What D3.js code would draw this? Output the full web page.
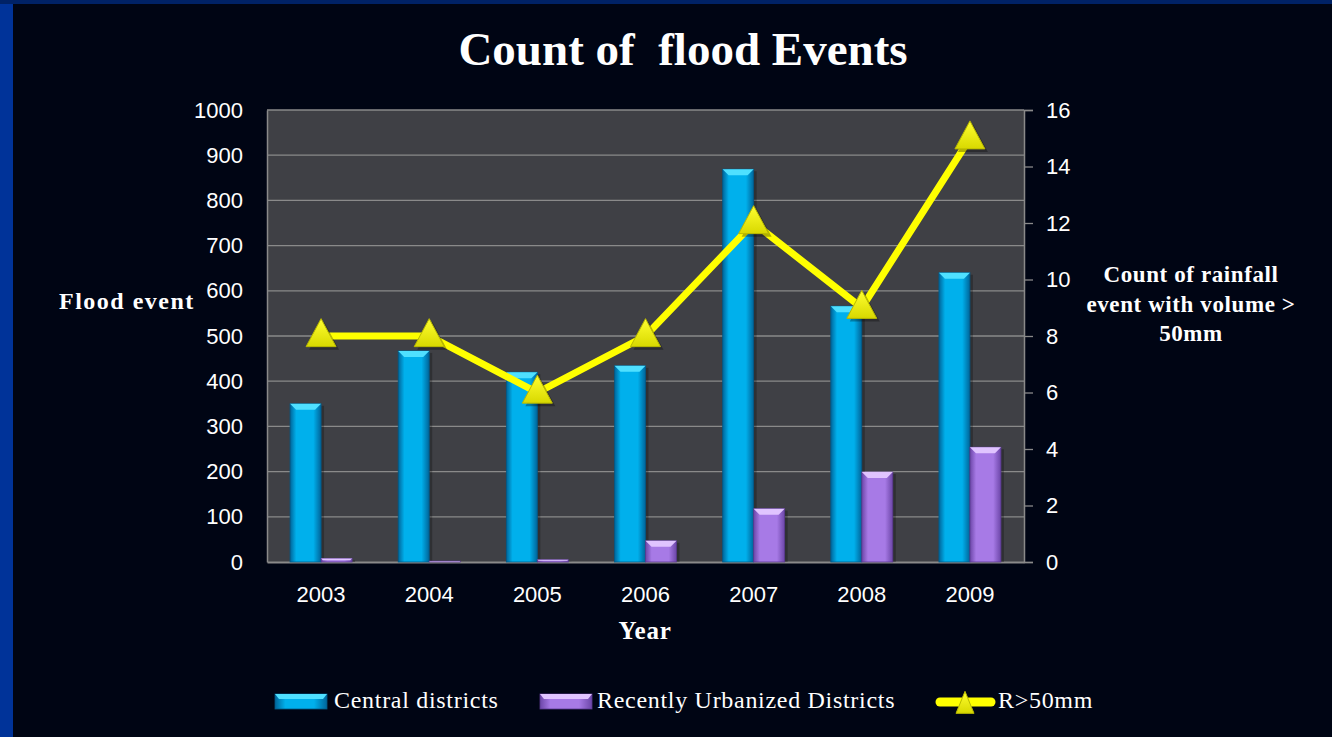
<!DOCTYPE html>
<html>
<head>
<meta charset="utf-8">
<script src="https://cdn.jsdelivr.net/npm/d3@7"></script>
<style>
  html, body { margin: 0; padding: 0; background: #000514; overflow: hidden; }
  svg { display: block; }
</style>
</head>
<body>
<div id="chart"></div>
<script>
// data
const years = ["2003", "2004", "2005", "2006", "2007", "2008", "2009"];
const centralDistricts = [350, 467, 420, 434, 869, 566, 640];
const urbanizedDistricts = [8, 2, 5, 47, 118, 199, 254];
const rainfallOver50 = [8, 8, 6, 8, 12, 9, 15];
const leftTicks = [0, 100, 200, 300, 400, 500, 600, 700, 800, 900, 1000];
const rightTicks = [0, 2, 4, 6, 8, 10, 12, 14, 16];

const width = 1332, height = 737;
const plot = { left: 267, right: 1024, top: 110, bottom: 562 };
const SANS = "Liberation Sans, Arial, sans-serif";
const SERIF = "Liberation Serif, Times New Roman, serif";

const svg = d3.select("#chart").append("svg").attr("width", width).attr("height", height);
const defs = svg.append("defs");

// background + slide borders
svg.append("rect").attr("width", width).attr("height", height).attr("fill", "#000514");
svg.append("rect").attr("width", 13).attr("height", height).attr("fill", "#003399");
svg.append("rect").attr("width", width).attr("height", 4).attr("fill", "#002266");

// gradients for the bevelled bars
const barGrad = (id, edge, mid) => {
  const g = defs.append("linearGradient").attr("id", id).attr("x1", 0).attr("x2", 1).attr("y1", 0).attr("y2", 0);
  g.append("stop").attr("offset", "0%").attr("stop-color", edge);
  g.append("stop").attr("offset", "20%").attr("stop-color", mid);
  g.append("stop").attr("offset", "75%").attr("stop-color", mid);
  g.append("stop").attr("offset", "100%").attr("stop-color", edge);
};
barGrad("gCentral", "#00659a", "#00b0ec");
barGrad("gUrban", "#6c46a8", "#a77ae6");
const triGrad = defs.append("linearGradient").attr("id", "gTri").attr("x1", 0).attr("x2", 0).attr("y1", 0).attr("y2", 1);
triGrad.append("stop").attr("offset", "0%").attr("stop-color", "#ffff30");
triGrad.append("stop").attr("offset", "100%").attr("stop-color", "#d8d800");

// scales
const x = d3.scaleBand().domain(years).range([plot.left, plot.right]);
const yL = d3.scaleLinear().domain([0, 1000]).range([plot.bottom, plot.top]);
const yR = d3.scaleLinear().domain([0, 16]).range([plot.bottom, plot.top]);
const barW = 31;

// plot area
svg.append("rect")
  .attr("x", plot.left).attr("y", plot.top)
  .attr("width", plot.right - plot.left).attr("height", plot.bottom - plot.top)
  .attr("fill", "#3f4045");

// gridlines
svg.append("g").selectAll("line").data(leftTicks.slice(1)).join("line")
  .attr("x1", plot.left).attr("x2", plot.right)
  .attr("y1", (d) => yL(d)).attr("y2", (d) => yL(d))
  .attr("stroke", "#8a8a8a").attr("stroke-width", 1.3);

// left axis
const axL = svg.append("g").attr("transform", `translate(${plot.left},0)`)
  .call(d3.axisLeft(yL).tickValues(leftTicks).tickFormat(d3.format("d")).tickSize(0).tickPadding(24));
axL.select(".domain").attr("stroke", "#8a8a8a").attr("stroke-width", 1.5);
axL.selectAll("text").attr("fill", "#fff").attr("font-family", SANS).attr("font-size", 22);

// right axis
const axR = svg.append("g").attr("transform", `translate(${plot.right},0)`)
  .call(d3.axisRight(yR).tickValues(rightTicks).tickSize(9).tickPadding(13));
axR.select(".domain").attr("stroke", "#8a8a8a").attr("stroke-width", 1.5);
axR.selectAll("line").attr("stroke", "#8a8a8a").attr("stroke-width", 1.3);
axR.selectAll("text").attr("fill", "#fff").attr("font-family", SANS).attr("font-size", 22);

// bottom axis
const axB = svg.append("g").attr("transform", `translate(0,${plot.bottom})`)
  .call(d3.axisBottom(x).tickSize(0).tickPadding(24));
axB.select(".domain").attr("stroke", "#8a8a8a").attr("stroke-width", 2);
axB.selectAll("text").attr("fill", "#fff").attr("font-family", SANS).attr("font-size", 22);

// bevelled bar drawer
const drawBars = (values, offset, grad, cap, dark) => {
  const g = svg.append("g");
  values.forEach((v, i) => {
    const x0 = x(years[i]) + x.bandwidth() / 2 + offset;
    const y0 = yL(v);
    const h = plot.bottom - y0;
    if (h <= 0) return;
    g.append("rect").attr("x", x0 + 3).attr("y", y0 + 2).attr("width", barW).attr("height", h - 2)
      .attr("fill", "#000").attr("opacity", 0.25);
    g.append("rect").attr("x", x0).attr("y", y0).attr("width", barW).attr("height", h)
      .attr("fill", `url(#${grad})`).attr("stroke", dark).attr("stroke-width", 0.8);
    const c = Math.min(6, h / 2);
    g.append("path")
      .attr("d", `M${x0},${y0}L${x0 + barW},${y0}L${x0 + barW - c},${y0 + c}L${x0 + c},${y0 + c}Z`)
      .attr("fill", cap);
  });
};
drawBars(centralDistricts, -barW, "gCentral", "#4fe0ff", "#005a88");
drawBars(urbanizedDistricts, 0, "gUrban", "#e0c4ff", "#5a3a90");

// line + triangle markers
const cx = (i) => x(years[i]) + x.bandwidth() / 2;
const line = d3.line().x((d, i) => cx(i)).y((d) => yR(d));
svg.append("path").datum(rainfallOver50).attr("d", line)
  .attr("fill", "none").attr("stroke", "#ffff00").attr("stroke-width", 7).attr("stroke-linejoin", "miter");

const tri = (px, py, w, h) => `M${px},${py - h * 0.62}L${px + w / 2},${py + h * 0.38}L${px - w / 2},${py + h * 0.38}Z`;
const marks = svg.append("g");
rainfallOver50.forEach((v, i) => {
  const px = cx(i), py = yR(v);
  marks.append("path").attr("d", tri(px + 3, py + 3, 30, 28)).attr("fill", "#000").attr("opacity", 0.3);
  marks.append("path").attr("d", tri(px, py, 30, 28)).attr("fill", "url(#gTri)").attr("stroke", "#b8b800").attr("stroke-width", 1);
});

// titles
svg.append("text").attr("x", 683).attr("y", 65).attr("text-anchor", "middle")
  .attr("font-family", SERIF).attr("font-weight", "bold")
  .attr("font-size", 47).attr("fill", "#fff").attr("xml:space", "preserve").text("Count of  flood Events");

const serifBold = (sel, size) => sel.attr("font-family", SERIF)
  .attr("font-weight", "bold").attr("font-size", size).attr("fill", "#fff");

serifBold(svg.append("text").attr("x", 59).attr("y", 309), 24).attr("letter-spacing", 1.5).text("Flood event");
serifBold(svg.append("text").attr("x", 645).attr("y", 639).attr("text-anchor", "middle"), 25).attr("letter-spacing", 0.8).text("Year");
const rl = serifBold(svg.append("text").attr("x", 1191).attr("y", 282).attr("text-anchor", "middle"), 23)
  .attr("letter-spacing", 0.6);
["Count of rainfall", "event with volume >", "50mm"].forEach((t, i) =>
  rl.append("tspan").attr("x", 1191).attr("dy", i === 0 ? 0 : 29.5).text(t));

// legend
const lg = svg.append("g");
const legY = 701;
const legSwatch = (lx, grad, cap, dark) => {
  lg.append("rect").attr("x", lx).attr("y", legY - 7).attr("width", 52).attr("height", 15)
    .attr("fill", `url(#${grad})`).attr("stroke", dark).attr("stroke-width", 0.8);
  lg.append("path").attr("d", `M${lx},${legY - 7}L${lx + 52},${legY - 7}L${lx + 48},${legY - 2}L${lx + 4},${legY - 2}Z`).attr("fill", cap);
};
legSwatch(275, "gCentral", "#4fe0ff", "#005a88");
legSwatch(540, "gUrban", "#e0c4ff", "#5a3a90");
lg.append("line").attr("x1", 940).attr("x2", 991).attr("y1", legY + 1).attr("y2", legY + 1)
  .attr("stroke", "#ffff00").attr("stroke-width", 9).attr("stroke-linecap", "round");
lg.append("path").attr("d", tri(965, legY + 4, 18, 22)).attr("fill", "url(#gTri)").attr("stroke", "#b8b800");

const legText = (lx, t) => lg.append("text").attr("x", lx).attr("y", legY + 7)
  .attr("font-family", SERIF).attr("font-size", 24).attr("letter-spacing", 0.7)
  .attr("fill", "#fff").text(t);
legText(334, "Central districts");
legText(597, "Recently Urbanized Districts");
legText(998, "R>50mm");
</script>
</body>
</html>
